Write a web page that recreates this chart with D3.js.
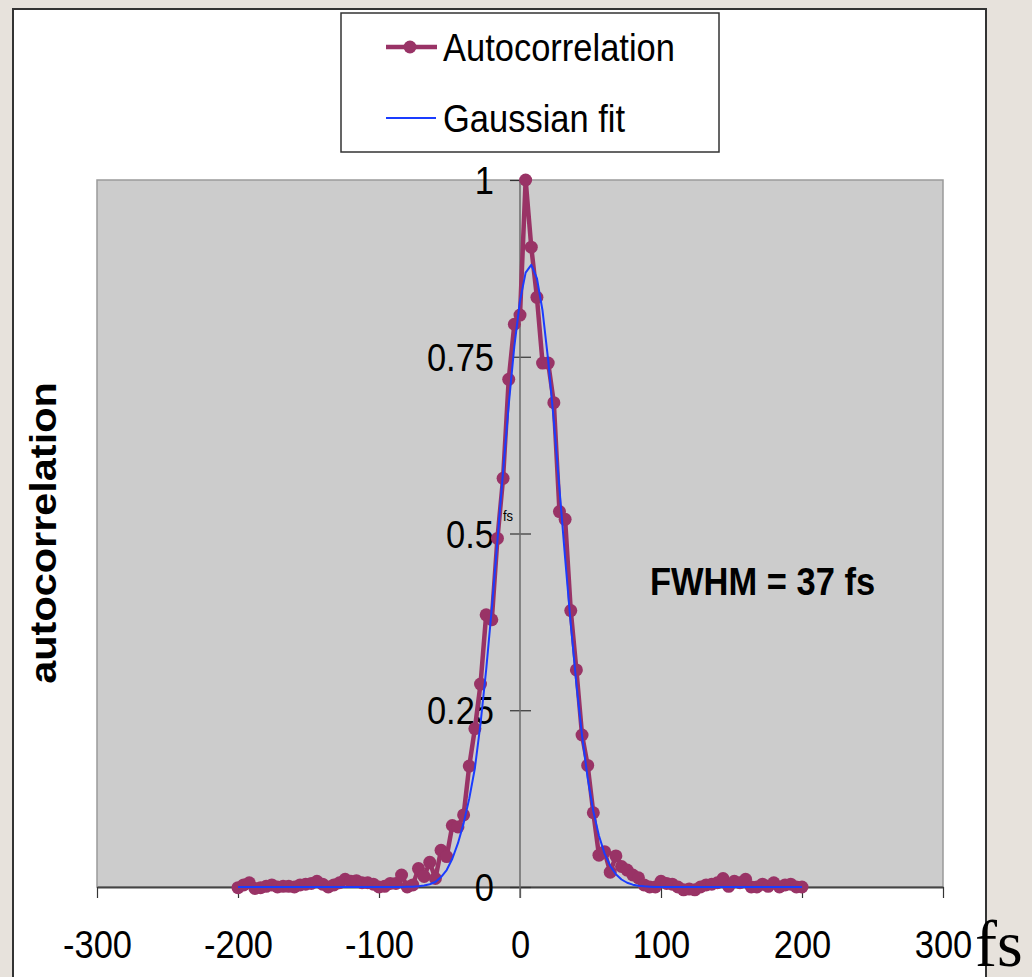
<!DOCTYPE html>
<html>
<head>
<meta charset="utf-8">
<script src="https://cdn.jsdelivr.net/npm/d3@7"></script>
<style>
body { margin: 0; background: #e7e2dc; }
svg { display: block; }
text { font-family: "Liberation Sans", Arial, sans-serif; fill: #000; }
</style>
</head>
<body>
<svg id="chart" width="1032" height="977"></svg>
<script>
// delay in fs
var timeFs = [
    -200, -196, -192, -188, -184, -180, -176, -172, -168, -164,
    -160, -156, -152, -148, -144, -140, -136, -132, -128, -124,
    -120, -116, -112, -108, -104, -100, -96, -92, -88, -84,
    -80, -76, -72, -68, -64, -60, -56, -52, -48, -44,
    -40, -36, -32, -28, -24, -20, -16, -12, -8, -4,
    0, 4, 8, 12, 16, 20, 24, 28, 32, 36,
    40, 44, 48, 52, 56, 60, 64, 68, 72, 76,
    80, 84, 88, 92, 96, 100, 104, 108, 112, 116,
    120, 124, 128, 132, 136, 140, 144, 148, 152, 156,
    160, 164, 168, 172, 176, 180, 184, 188, 192, 196,
    200
];
var autocorrelation = [
    -0.001, 0.003, 0.006, -0.002, -0.001, 0.001, 0.003, 0.000, 0.001, 0.001,
    0.000, 0.003, 0.004, 0.005, 0.008, 0.004, 0.000, 0.003, 0.006, 0.011,
    0.008, 0.009, 0.006, 0.006, 0.004, 0.000, 0.001, 0.005, 0.005, 0.017,
    0.000, 0.003, 0.026, 0.015, 0.035, 0.012, 0.052, 0.043, 0.087, 0.085,
    0.102, 0.171, 0.224, 0.287, 0.385, 0.378, 0.493, 0.578, 0.718, 0.796,
    0.809, 1.000, 0.905, 0.834, 0.741, 0.741, 0.685, 0.531, 0.520, 0.391,
    0.307, 0.215, 0.172, 0.105, 0.045, 0.050, 0.021, 0.044, 0.029, 0.024,
    0.017, 0.013, 0.003, 0.000, 0.000, 0.008, 0.005, 0.004, 0.000, -0.004,
    -0.003, -0.004, 0.000, 0.003, 0.004, 0.006, 0.012, 0.001, 0.008, 0.006,
    0.011, 0.000, 0.000, 0.004, 0.001, 0.006, 0.000, 0.003, 0.004, 0.000,
    0.000
];
var gaussianFit = [
    0, 0, 0, 0, 0, 0, 0, 0, 0, 0,
    0, 0, 0, 0, 0, 0, 0, 0, 0, 0,
    0, 0, 0, 0, 0, 0, 0, 0, 0, 0,
    0.0003, 0.0005, 0.0011, 0.0021, 0.0039, 0.0070, 0.014, 0.024, 0.040, 0.062,
    0.090, 0.125, 0.168, 0.231, 0.307, 0.394, 0.490, 0.588, 0.682, 0.765,
    0.829, 0.869, 0.880, 0.861, 0.815, 0.745, 0.659, 0.563, 0.465, 0.372,
    0.287, 0.214, 0.154, 0.107, 0.0724, 0.0472, 0.0297, 0.0181, 0.0106, 0.0060,
    0.0033, 0.0018, 0.0009, 0.0004, 0, 0, 0, 0, 0, 0,
    0, 0, 0, 0, 0, 0, 0, 0, 0, 0,
    0, 0, 0, 0, 0, 0, 0, 0, 0, 0,
    0
];
var xTickValues = [-300, -200, -100, 0, 100, 200, 300];
var xTickLabels = ['-300', '-200', '-100', '0', '100', '200', '300'];
var yTickValues = [0, 0.25, 0.5, 0.75, 1];
var yTickLabels = ['0', '0.25', '0.5', '0.75', '1'];
var seriesNames = ['Autocorrelation', 'Gaussian fit'];

(function () {
    var purple = '#993366';
    var blue = '#1a3cff';
    var sy = 1.12; // the picture is a bit stretched vertically

    var svg = d3.select('#chart');

    // white chart sheet
    svg.append('rect')
        .attr('x', 13).attr('y', 9).attr('width', 973).attr('height', 990)
        .attr('fill', '#fff').attr('stroke', '#333').attr('stroke-width', 2);

    var plotLeft = 97, plotRight = 943, plotTop = 180, plotBottom = 887;
    var xScale = d3.scaleLinear().domain([-300, 300]).range([plotLeft, plotRight]);
    var yScale = d3.scaleLinear().domain([0, 1]).range([plotBottom, plotTop]);

    // plot area
    svg.append('rect')
        .attr('x', plotLeft).attr('y', plotTop)
        .attr('width', plotRight - plotLeft).attr('height', plotBottom - plotTop)
        .attr('fill', '#cccccc').attr('stroke', '#9a9a9a').attr('stroke-width', 1.5);

    // x axis
    var xAxis = d3.axisBottom(xScale).tickValues(xTickValues).tickSize(11).tickSizeOuter(0)
        .tickFormat(function (d, i) { return xTickLabels[i]; });
    var gx = svg.append('g')
        .attr('transform', 'translate(0,' + plotBottom + ')')
        .call(xAxis);
    gx.select('.domain').attr('stroke', '#444').attr('stroke-width', 2);
    gx.selectAll('.tick line').attr('stroke', '#333').attr('stroke-width', 1.2);
    gx.selectAll('.tick text')
        .attr('y', 0).attr('dy', 0)
        .attr('transform', 'translate(0,71) scale(1,' + sy + ')')
        .style('font-size', '34.5px').style('font-family', '"Liberation Sans", Arial, sans-serif');

    // y axis through x = 0
    var yAxis = d3.axisLeft(yScale).tickValues(yTickValues).tickSize(10).tickSizeOuter(0)
        .tickFormat(function (d, i) { return yTickLabels[i]; });
    var gy = svg.append('g')
        .attr('transform', 'translate(' + xScale(0) + ',0)')
        .call(yAxis);
    gy.select('.domain').remove();
    gy.append('line')
        .attr('x1', 0).attr('x2', 0).attr('y1', plotTop).attr('y2', plotBottom + 11)
        .attr('stroke', '#6b6b6b').attr('stroke-width', 1.5);
    gy.selectAll('.tick line').attr('x2', 11).attr('x1', -10).attr('stroke', '#333').attr('stroke-width', 1.2);
    gy.selectAll('.tick text')
        .attr('x', 0).attr('dy', '0.35em')
        .attr('transform', 'translate(-26,0) scale(1,' + sy + ')')
        .attr('text-anchor', 'end')
        .style('font-size', '34.5px').style('font-family', '"Liberation Sans", Arial, sans-serif');

    // series
    var points = timeFs.map(function (t, i) {
        return { t: t, a: autocorrelation[i], g: gaussianFit[i] };
    });
    var lineA = d3.line()
        .x(function (d) { return xScale(d.t); })
        .y(function (d) { return yScale(d.a); });
    var lineG = d3.line()
        .x(function (d) { return xScale(d.t); })
        .y(function (d) { return yScale(d.g); });

    var gs = svg.append('g');
    gs.append('path')
        .attr('d', lineA(points))
        .attr('fill', 'none').attr('stroke', purple).attr('stroke-width', 4.5)
        .attr('stroke-linejoin', 'round');
    gs.selectAll('circle')
        .data(points)
        .enter()
        .append('circle')
        .attr('cx', function (d) { return xScale(d.t); })
        .attr('cy', function (d) { return yScale(d.a); })
        .attr('r', 6.5)
        .attr('fill', purple);
    gs.append('path')
        .attr('d', lineG(points))
        .attr('fill', 'none').attr('stroke', blue).attr('stroke-width', 2)
        .attr('stroke-linejoin', 'round');

    // texts
    function label(x, y, str, size, weight, anchor) {
        return svg.append('text')
            .attr('transform', 'translate(' + x + ',' + y + ') scale(1,' + sy + ')')
            .attr('dy', '0.35em')
            .attr('text-anchor', anchor || 'start')
            .style('font-size', size + 'px')
            .style('font-weight', weight || 'normal')
            .text(str);
    }
    label(650, 581, 'FWHM = 37 fs', 34.5, 'bold');
    label(503, 516, 'fs', 13);

    svg.append('text')
        .attr('transform', 'translate(43,533) rotate(-90) scale(' + sy + ',1)')
        .attr('dy', '0.35em')
        .attr('text-anchor', 'middle')
        .style('font-size', '37px')
        .style('font-weight', 'bold')
        .text('autocorrelation');

    svg.append('text')
        .attr('x', 975).attr('y', 966)
        .style('font-family', '"Liberation Serif", "Times New Roman", serif')
        .style('font-size', '66px')
        .text('fs');

    // legend
    var lg = svg.append('g');
    lg.append('rect')
        .attr('x', 341).attr('y', 13).attr('width', 378).attr('height', 139)
        .attr('fill', '#fff').attr('stroke', '#333').attr('stroke-width', 1.5);
    lg.append('line')
        .attr('x1', 386).attr('x2', 437).attr('y1', 47).attr('y2', 47)
        .attr('stroke', purple).attr('stroke-width', 4.5);
    lg.append('circle').attr('cx', 410).attr('cy', 47).attr('r', 6.5).attr('fill', purple);
    lg.append('line')
        .attr('x1', 386).attr('x2', 436).attr('y1', 118).attr('y2', 118)
        .attr('stroke', blue).attr('stroke-width', 2);
    label(443, 47, seriesNames[0], 34.5);
    label(443, 118, seriesNames[1], 34.5);
})();
</script>
</body>
</html>
